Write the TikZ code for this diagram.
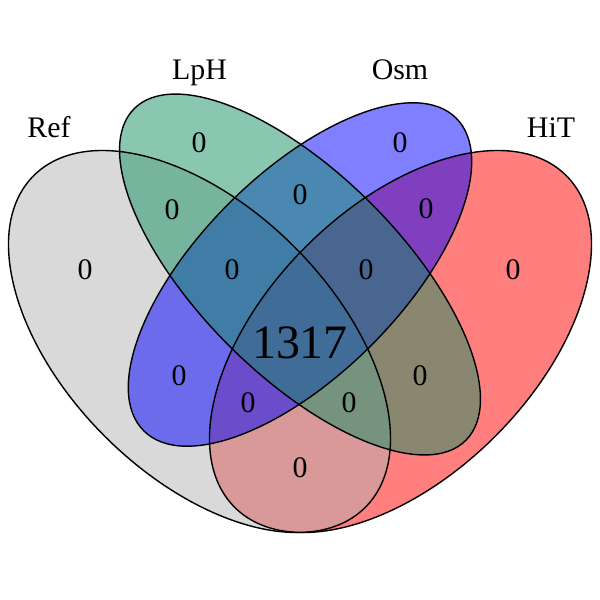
\documentclass[tikz,border=0pt]{standalone}
\usepackage{fontspec}
\setmainfont{Liberation Serif}
\usepackage{tikz}
\usetikzlibrary{positioning}
\definecolor{refGray}{RGB}{179,179,179}
\definecolor{lphGreen}{RGB}{21,143,99}
\definecolor{osmBlue}{RGB}{0,0,255}
\definecolor{hitRed}{RGB}{255,0,0}

\begin{document}
\begin{tikzpicture}[x=0.02cm, y=0.02cm,
    setfill/.style={fill opacity=0.5},
    setline/.style={draw=black, line width=0.8pt},
    count/.style={font=\fontsize{17}{20}\selectfont},
    setname/.style={anchor=base, font=\fontsize{17}{20}\selectfont}]
    \useasboundingbox (0,0) rectangle (600,600);
    \coordinate (R) at (199.5,258.5); % Ref
    \coordinate (L) at (300,325.5);   % LpH and Osm share it
    \coordinate (H) at (400.5,258.5); % HiT

    % fills, HiT first
    \fill[hitRed, setfill, rotate around={45:(H)}] (H) ellipse [x radius=234.5, y radius=134];
    \fill[refGray, setfill, rotate around={-45:(R)}] (R) ellipse [x radius=234.5, y radius=134];
    \fill[osmBlue, setfill, rotate around={45:(L)}] (L) ellipse [x radius=221, y radius=100.5];
    \fill[lphGreen, setfill, rotate around={-45:(L)}] (L) ellipse [x radius=234.5, y radius=100.5];

    \draw[setline, rotate around={45:(H)}] (H) ellipse [x radius=234.5, y radius=134];
    \draw[setline, rotate around={-45:(R)}] (R) ellipse [x radius=234.5, y radius=134];
    \draw[setline, rotate around={45:(L)}] (L) ellipse [x radius=221, y radius=100.5];
    \draw[setline, rotate around={-45:(L)}] (L) ellipse [x radius=234.5, y radius=100.5];

    \node[setname] (nRef) at (49,462.7) {Ref};
    \node[setname] (nLpH) at (199.5,520.7) {LpH};
    \node[setname] (nOsm) at (400,520.7) {Osm};
    \node[setname] (nHiT) at (551,462.7) {HiT};

    \node[count] (cR) at (85,330) {0};
    \node[count] (cL) at (199,457) {0};
    \node[count] (cO) at (400,457) {0};
    \node[count] (cH) at (513,330) {0};
    \node[count] (cRL) at (172,390) {0};
    \node[count] (cLO) at (300,405) {0};
    \node[count] (cOH) at (426,391) {0};
    \node[count] (cRLO) at (232,330) {0};
    \node[count] (cLOH) at (366,330) {0};
    \node[count, font=\fontsize{27.3}{30}\selectfont] (cAll) at (300,257) {1317};
    \node[count] (cRO) at (179,224) {0};
    \node[count] (cLH) at (420,224) {0};
    \node[count] (cROH) at (248,197) {0};
    \node[count] (cRLH) at (349,197) {0};
    \node[count] (cRH) at (300,132) {0};
\end{tikzpicture}
\end{document}
